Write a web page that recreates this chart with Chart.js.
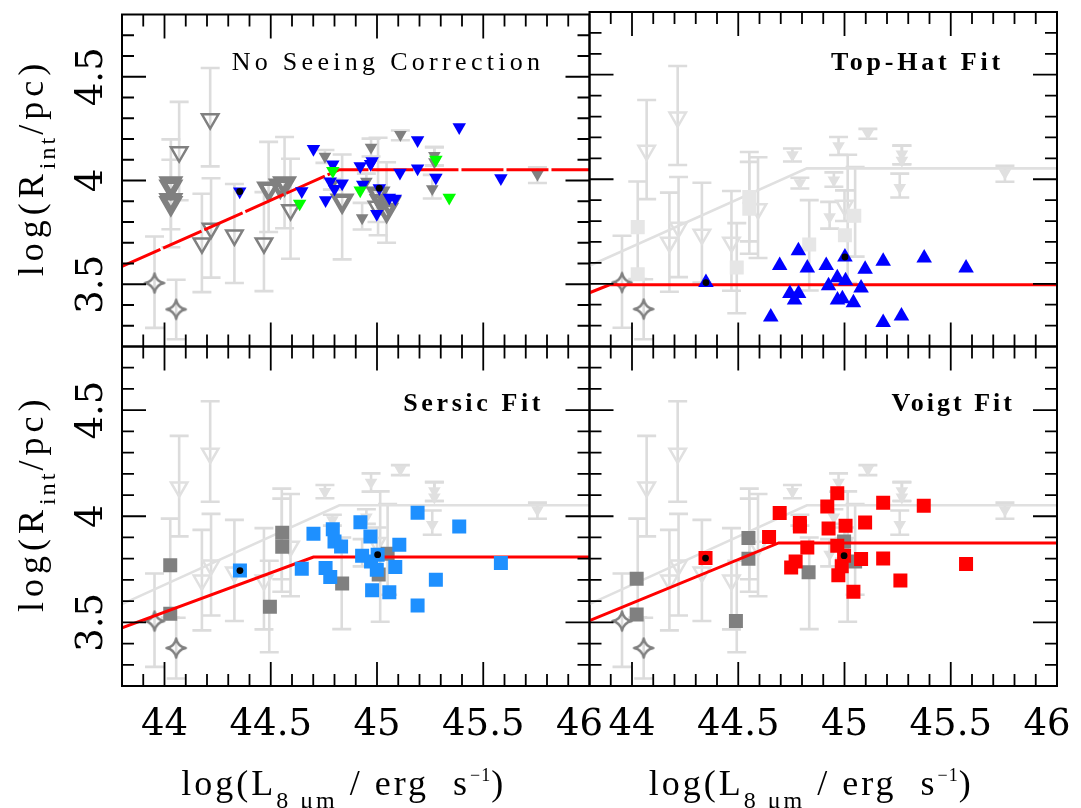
<!DOCTYPE html>
<html><head><meta charset="utf-8">
<script src="https://cdn.jsdelivr.net/npm/chart.js@4.4.1/dist/chart.umd.min.js"></script>
<style>
html,body{margin:0;padding:0;background:#fff;}
#wrap{position:relative;width:1081px;height:808px;overflow:hidden;background:#fff;}
canvas{position:absolute;left:0;top:0;}
</style></head><body>
<div id="wrap">
<canvas id="c0" width="1081" height="808"></canvas>
<canvas id="c1" width="1081" height="808"></canvas>
<canvas id="c2" width="1081" height="808"></canvas>
<canvas id="c3" width="1081" height="808"></canvas>
</div>
<script>
// ---------------- DATA ----------------
const xRange = [43.8, 46.0];
const yRange = [3.2, 4.8];
const xTickValues = [44, 44.5, 45, 45.5, 46];
const xTickLabels = ['44', '44.5', '45', '45.5', '46'];
const yTickValues = [3.5, 4, 4.5];
const yTickLabels = ['3.5', '4', '4.5'];
const panelTitles = ['No Seeing Correction', 'Top-Hat Fit', 'Sersic Fit', 'Voigt Fit'];

// background: open upper-limit triangles with error bars
const openTriX  = [44.069, 44.215, 44.176, 44.219, 44.329, 44.468, 44.593, 45.000];
const openTriY  = [4.137, 4.296, 3.698, 3.769, 3.736, 3.698, 3.858, 3.875];
const openTriLo = [3.905, 4.068, 3.462, 3.532, 3.506, 3.467, 3.623, 3.800];
const openTriHi = [4.379, 4.542, 3.936, 4.011, 3.983, 3.944, 4.105, 3.947];

// background: small filled triangles with short bars
const limTriX  = [44.755, 44.790, 44.972, 44.950, 44.930, 45.110, 45.270, 45.270, 45.260, 45.755];
const limTriY  = [4.116, 3.983, 4.160, 3.996, 3.820, 4.221, 4.120, 4.090, 3.960, 4.030];
const limTriLo = [4.085, 3.956, 4.116, 3.964, 3.764, 4.194, 4.072, 4.072, 3.913, 3.988];
const limTriHi = [4.147, 4.007, 4.202, 4.033, 3.892, 4.241, 4.161, 4.161, 4.027, 4.064];

// stars
const starX  = [43.953, 44.055];
const starY  = [3.506, 3.379];
const starLo = [3.290, 3.235];
const starHi = [3.730, 3.522];

// panel 1 (no seeing correction)
const thickTriX  = [44.030, 44.030, 44.030, 44.030, 44.490, 44.545, 44.565, 44.836, 45.005, 45.020, 45.045, 45.058];
const thickTriY  = [3.985, 3.970, 3.905, 3.890, 3.960, 3.975, 3.985, 3.902, 3.936, 3.900, 3.858, 3.889];
const thickTriLo = [3.678, null, 3.765, null, 3.752, null, 3.770, 3.620, 3.736, null, 3.700, null];
const thickTriHi = [4.198, null, 4.100, null, 4.186, null, 4.210, 4.125, 4.206, null, 4.088, null];
const blueDownX = [44.701, 44.646, 44.758, 44.792, 44.780, 44.800, 44.836, 44.921, 44.977, 44.970, 44.933, 45.011, 44.999, 45.058, 45.086, 45.108, 45.191, 45.191, 45.277, 45.387, 45.583, 44.354];
const blueDownY = [4.152, 3.949, 3.905, 4.077, 3.996, 3.960, 3.986, 4.069, 4.093, 4.080, 3.980, 3.963, 3.839, 3.917, 3.913, 4.038, 4.194, 4.058, 4.014, 4.257, 4.011, 3.947];
const greenDownX = [44.636, 44.792, 44.921, 45.277, 45.340];
const greenDownY = [3.889, 4.046, 3.952, 4.100, 3.917];
const dots1X = [44.354, 45.011];
const dots1Y = [3.947, 3.963];
const fitNoneX = [43.8, 44.823, 46.0];
const fitNoneY = [3.586, 4.052, 4.052];

// square error bars shared by panels 2-4
const sqBarX  = [44.027, 44.493, 44.552, 44.552, 44.834, 45.015, 45.050];
const sqBarLo = [3.523, 3.359, 3.644, 3.703, 3.468, 3.503, 3.630];
const sqBarHi = [3.989, 3.790, 4.130, 4.083, 3.900, 4.117, 4.058];

// panel 2 (top-hat)
const lightSqX = [44.027, 44.027, 44.493, 44.552, 44.552, 44.834, 45.002, 45.046];
const lightSqY = [3.771, 3.545, 3.578, 3.915, 3.859, 3.688, 3.732, 3.826];
const blueUpX = [44.348, 44.783, 44.695, 44.825, 44.914, 45.002, 44.966, 45.005, 44.925, 45.097, 45.078, 45.182, 45.375, 45.572, 44.743, 44.784, 44.765, 44.967, 44.990, 45.042, 45.182, 45.268, 44.653];
const blueUpY = [3.506, 3.658, 3.587, 3.576, 3.587, 3.628, 3.529, 3.514, 3.490, 3.569, 3.480, 3.608, 3.623, 3.576, 3.454, 3.454, 3.423, 3.423, 3.428, 3.409, 3.315, 3.346, 3.341];
const dots2X = [44.348, 45.002];
const dots2Y = [3.506, 3.628];
const fitTopHatX = [43.8, 43.894, 46.0];
const fitTopHatY = [3.457, 3.495, 3.495];

// panel 3 (sersic)
const graySq3X = [44.027, 44.027, 44.496, 44.554, 44.554, 44.836, 45.050, 45.008];
const graySq3Y = [3.769, 3.540, 3.573, 3.922, 3.856, 3.683, 3.823, 3.725];
const sersicX = [44.355, 44.701, 44.792, 44.800, 44.831, 44.922, 44.969, 45.191, 45.387, 45.105, 44.930, 45.003, 44.972, 44.999, 45.086, 44.646, 44.758, 44.780, 44.977, 45.058, 45.191, 45.277, 45.583];
const sersicY = [3.744, 3.917, 3.939, 3.881, 3.858, 3.972, 3.905, 4.017, 3.952, 3.866, 3.814, 3.819, 3.787, 3.748, 3.761, 3.752, 3.756, 3.714, 3.651, 3.642, 3.579, 3.701, 3.780];
const dots3X = [44.355, 45.003];
const dots3Y = [3.744, 3.819];
const fitSersicX = [43.8, 44.701, 46.0];
const fitSersicY = [3.474, 3.808, 3.808];

// panel 4 (voigt)
const graySq4X = [44.022, 44.022, 44.489, 44.548, 44.548, 44.831, 44.998, 45.050];
const graySq4Y = [3.706, 3.537, 3.506, 3.897, 3.800, 3.736, 3.881, 3.787];
const voigtX = [44.346, 44.645, 44.695, 44.790, 44.790, 44.966, 44.919, 45.182, 45.373, 44.925, 45.005, 45.097, 44.825, 44.966, 44.998, 44.770, 44.749, 44.987, 44.971, 45.078, 45.182, 45.263, 45.042, 45.572];
const voigtY = [3.803, 3.902, 4.015, 3.968, 3.952, 4.108, 4.046, 4.064, 4.049, 3.942, 3.955, 3.970, 3.853, 3.861, 3.814, 3.787, 3.759, 3.764, 3.722, 3.798, 3.801, 3.697, 3.644, 3.775];
const dots4X = [44.346, 44.998];
const dots4Y = [3.803, 3.814];
const fitVoigtX = [43.8, 44.690, 46.0];
const fitVoigtY = [3.508, 3.874, 3.874];

// ---------------- STYLE / HELPERS ----------------
const GRAY = '#808080', LGRAY = '#e0e0e0', BAR = '#dcdcdc';
const W = 1081, H = 808;
const colEdges = [122, 589.5, 1057];
const rowEdges = [7, 346.5, 686];

function pts(xs, ys) { return xs.map((v, i) => ({x: v, y: ys[i]})); }

function makeStar(color) {
  const s = 24, c = document.createElement('canvas');
  c.width = s; c.height = s;
  const g = c.getContext('2d'), m = s / 2, R = 9.6, k = 1.6;
  g.strokeStyle = color; g.lineWidth = 2.4; g.lineJoin = 'round';
  g.beginPath();
  g.moveTo(m, m - R);
  g.quadraticCurveTo(m + k, m - k, m + R, m);
  g.quadraticCurveTo(m + k, m + k, m, m + R);
  g.quadraticCurveTo(m - k, m + k, m - R, m);
  g.quadraticCurveTo(m - k, m - k, m, m - R);
  g.closePath(); g.stroke();
  return c;
}
const starImg = makeStar(GRAY);

function scatter(label, xs, ys, st, lo, hi) {
  return Object.assign({
    label, data: pts(xs, ys), showLine: false,
    pointStyle: 'circle', pointRadius: 5, pointBorderWidth: 0,
    pointBackgroundColor: '#000', pointBorderColor: '#000',
    errLo: lo || null, errHi: hi || null
  }, st);
}
function line(label, xs, ys, color, width, dash) {
  return {label, data: pts(xs, ys), showLine: true, pointRadius: 0,
    borderColor: color, borderWidth: width, borderDash: dash || [], fill: false, tension: 0};
}
const openStyle = c => ({pointStyle: 'triangle', pointRotation: 180, pointRadius: 9.5, pointBorderWidth: 2.5, pointBorderColor: c, pointBackgroundColor: 'rgba(0,0,0,0)'});
const fillTri = (c, r, rot) => ({pointStyle: 'triangle', pointRotation: rot, pointRadius: r, pointBorderWidth: 0, pointBackgroundColor: c, pointBorderColor: c});
const fillSq = (c) => ({pointStyle: 'rect', pointRadius: 9.9, pointBorderWidth: 0, pointBackgroundColor: c, pointBorderColor: c});
const dotStyle = {pointStyle: 'circle', pointRadius: 3.4, pointBorderWidth: 0, pointBackgroundColor: '#000'};

function commonBg(dark) {
  const c = dark ? GRAY : LGRAY;
  return [
    scatter('open', openTriX, openTriY, openStyle(c), openTriLo, openTriHi),
    scatter('lim', limTriX, limTriY, fillTri(c, 7.3, 180), limTriLo, limTriHi),
    scatter('stars', starX, starY, {pointStyle: starImg, pointRadius: 10}, starLo, starHi)
  ];
}

// error bar plugin (uses the chart's scales)
const errorBars = {
  id: 'errorBars',
  beforeDatasetsDraw(chart) {
    const {ctx, chartArea: a, scales: {x, y}} = chart;
    ctx.save();
    ctx.beginPath(); ctx.rect(a.left, a.top, a.right - a.left, a.bottom - a.top); ctx.clip();
    ctx.strokeStyle = BAR; ctx.lineWidth = 2.6;
    chart.data.datasets.forEach(ds => {
      if (!ds.errLo) return;
      ds.data.forEach((p, i) => {
        const lo = ds.errLo[i], hi = ds.errHi[i];
        if (lo == null || hi == null) return;
        const px = x.getPixelForValue(p.x), p1 = y.getPixelForValue(lo), p2 = y.getPixelForValue(hi);
        ctx.beginPath();
        ctx.moveTo(px, p1); ctx.lineTo(px, p2);
        ctx.moveTo(px - 9.5, p1); ctx.lineTo(px + 9.5, p1);
        ctx.moveTo(px - 9.5, p2); ctx.lineTo(px + 9.5, p2);
        ctx.stroke();
      });
    });
    ctx.restore();
  }
};

function drawRuns(ctx, runs, x, y, align) {
  const ws = runs.map(r => { ctx.font = r.font; ctx.letterSpacing = r.ls || '0px'; return ctx.measureText(r.t).width; });
  const tot = ws.reduce((s, v) => s + v, 0);
  let cx = align === 'center' ? x - tot / 2 : align === 'right' ? x - tot : x;
  ctx.textAlign = 'left'; ctx.textBaseline = 'alphabetic';
  runs.forEach((r, i) => { ctx.font = r.font; ctx.letterSpacing = r.ls || '0px'; ctx.fillText(r.t, cx, y + (r.dy || 0)); cx += ws[i]; });
}

const SERIF = '"Liberation Serif", "Times New Roman", serif';
const TICKF = '37px "DejaVu Serif", serif';

const decor = {
  id: 'decor',
  afterDraw(chart, args, o) {
    const {ctx, chartArea: a, scales: {x, y}} = chart;
    ctx.save();
    ctx.strokeStyle = '#000'; ctx.lineWidth = 2;
    ctx.strokeRect(a.left, a.top, a.right - a.left, a.bottom - a.top);
    ctx.lineWidth = 1.8;
    ctx.beginPath();
    for (let k = Math.round(x.min * 10) + 1; k < Math.round(x.max * 10); k++) {
      const px = x.getPixelForValue(k / 10), len = k % 5 === 0 ? 24 : 12;
      ctx.moveTo(px, a.bottom); ctx.lineTo(px, a.bottom - len);
      ctx.moveTo(px, a.top); ctx.lineTo(px, a.top + len);
    }
    for (let k = Math.round(y.min * 10) + 1; k < Math.round(y.max * 10); k++) {
      const py = y.getPixelForValue(k / 10), len = k % 5 === 0 ? 24 : 12;
      ctx.moveTo(a.left, py); ctx.lineTo(a.left + len, py);
      ctx.moveTo(a.right, py); ctx.lineTo(a.right - len, py);
    }
    ctx.stroke();
    ctx.fillStyle = '#000';
    if (o.xLabels) {
      xTickValues.forEach((v, i) => {
        let px = x.getPixelForValue(v);
        if (i === xTickValues.length - 1) px -= 10;
        drawRuns(ctx, [{t: xTickLabels[i], font: TICKF}], px, a.bottom + 49, 'center');
      });
      const cx = (a.left + a.right) / 2 - 12;
      const M = '36px ' + SERIF, S = '24px ' + SERIF, LS = '3px';
      drawRuns(ctx, [
        {t: 'log(L', font: M, ls: LS},
        {t: '8 μm', font: S, ls: LS, dy: 13},
        {t: ' / erg  s', font: M, ls: LS},
        {t: '−1', font: '18px ' + SERIF, ls: '1px', dy: -14},
        {t: ')', font: M, ls: LS}
      ], cx, 795, 'center');
    }
    if (o.yLabels) {
      yTickValues.forEach((v, i) => {
        const py = y.getPixelForValue(v);
        ctx.save(); ctx.translate(102, py); ctx.rotate(-Math.PI / 2);
        drawRuns(ctx, [{t: yTickLabels[i], font: TICKF}], 0, 0, 'center');
        ctx.restore();
      });
      const cy = (a.top + a.bottom) / 2 - 13;
      const M = '36px ' + SERIF, S = '24px ' + SERIF, LS = '5px';
      ctx.save(); ctx.translate(43, cy); ctx.rotate(-Math.PI / 2);
      drawRuns(ctx, [
        {t: 'log(R', font: M, ls: LS},
        {t: 'int', font: S, ls: '3px', dy: 12},
        {t: '/pc)', font: M, ls: LS}
      ], 0, 0, 'center');
      ctx.restore();
    }
    if (o.title) {
      const t = o.title;
      drawRuns(ctx, [{t: t.text, font: t.font, ls: t.ls}], t.x, t.y, t.align);
    }
    ctx.restore();
  }
};

function makeChart(id, col, row, datasets, deco) {
  datasets.forEach((d, i) => { d.order = datasets.length - i; });
  return new Chart(document.getElementById(id), {
    type: 'scatter',
    data: {datasets},
    plugins: [errorBars, decor],
    options: {
      responsive: false, animation: false, devicePixelRatio: 1, events: [],
      layout: {padding: {left: colEdges[col], right: W - colEdges[col + 1], top: rowEdges[row], bottom: H - rowEdges[row + 1]}},
      scales: {
        x: {type: 'linear', min: xRange[0], max: xRange[1], display: false},
        y: {type: 'linear', min: yRange[0], max: yRange[1], display: false}
      },
      plugins: {legend: {display: false}, tooltip: {enabled: false}, decor: deco}
    }
  });
}

// panel 1
makeChart('c0', 0, 0, [
  ...commonBg(true),
  scatter('thick', thickTriX, thickTriY, {pointStyle: 'triangle', pointRotation: 180, pointRadius: 10, pointBorderWidth: 4.5, pointBorderColor: GRAY, pointBackgroundColor: 'rgba(0,0,0,0)'}, thickTriLo, thickTriHi),
  line('fit', fitNoneX, fitNoneY, '#ff0000', 3, [42, 3]),
  scatter('blue', blueDownX, blueDownY, fillTri('#0000ff', 7.8, 180)),
  scatter('green', greenDownX, greenDownY, fillTri('#00ff00', 7.8, 180)),
  scatter('dots', dots1X, dots1Y, dotStyle)
], {yLabels: true, title: {text: panelTitles[0], font: '26px ' + SERIF, ls: '4.3px', x: 388, y: 70, align: 'center'}});

function fitPanelBg() {
  return [
    ...commonBg(false).slice(0, 2),
    line('ref', fitNoneX, fitNoneY, LGRAY, 2.6),
    scatter('sqbars', sqBarX, sqBarLo.map((v, i) => (v + sqBarHi[i]) / 2), {pointRadius: 0}, sqBarLo, sqBarHi)
  ];
}

// panel 2
makeChart('c1', 1, 0, [
  ...fitPanelBg(),
  scatter('lsq', lightSqX, lightSqY, fillSq('#e6e6e6')),
  commonBg(true)[2],
  line('fit', fitTopHatX, fitTopHatY, '#ff0000', 3),
  scatter('blue', blueUpX, blueUpY, fillTri('#0000ff', 9, 0)),
  scatter('dots', dots2X, dots2Y, dotStyle)
], {title: {text: panelTitles[1], font: 'bold 26px ' + SERIF, ls: '3.8px', x: 1004, y: 70, align: 'right'}});

// panel 3
makeChart('c2', 0, 1, [
  ...fitPanelBg(),
  commonBg(true)[2],
  scatter('gsq', graySq3X, graySq3Y, fillSq(GRAY)),
  line('fit', fitSersicX, fitSersicY, '#ff0000', 3),
  scatter('sersic', sersicX, sersicY, fillSq('#1e90ff')),
  scatter('dots', dots3X, dots3Y, dotStyle)
], {xLabels: true, yLabels: true, title: {text: panelTitles[2], font: 'bold 26px ' + SERIF, ls: '3.6px', x: 544, y: 411, align: 'right'}});

// panel 4
makeChart('c3', 1, 1, [
  ...fitPanelBg(),
  commonBg(true)[2],
  scatter('gsq', graySq4X, graySq4Y, fillSq(GRAY)),
  line('fit', fitVoigtX, fitVoigtY, '#ff0000', 3),
  scatter('voigt', voigtX, voigtY, fillSq('#ff0000')),
  scatter('dots', dots4X, dots4Y, dotStyle)
], {xLabels: true, title: {text: panelTitles[3], font: 'bold 26px ' + SERIF, ls: '3px', x: 1015, y: 411, align: 'right'}});
</script>
</body></html>
